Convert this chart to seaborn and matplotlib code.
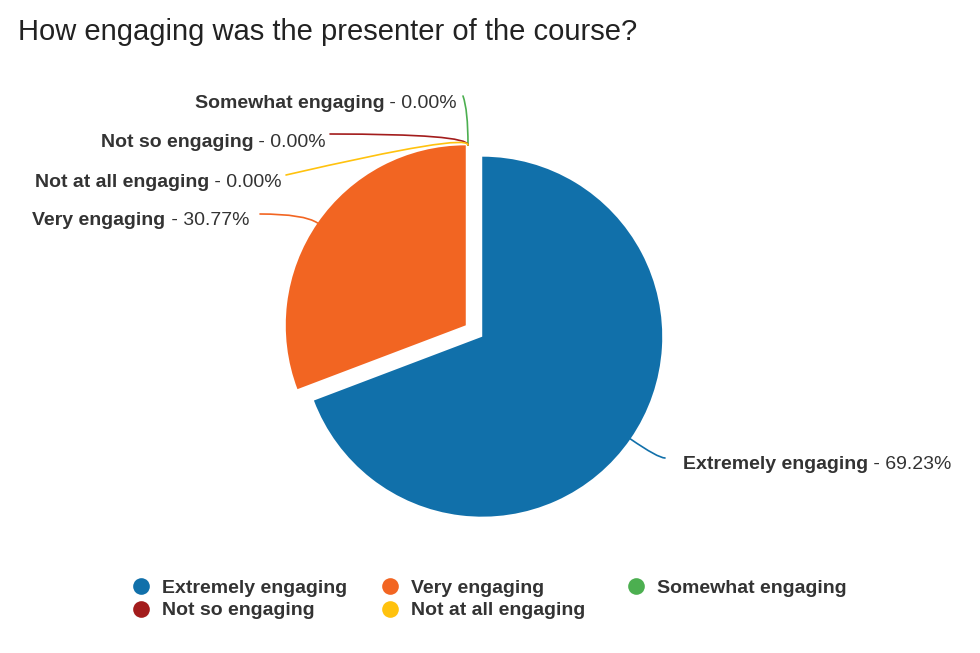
import matplotlib
matplotlib.use("Agg")
import matplotlib.pyplot as plt
import seaborn as sns
import numpy as np
from matplotlib.lines import Line2D

# ---- data ----
categories = ["Extremely engaging", "Very engaging", "Somewhat engaging",
              "Not so engaging", "Not at all engaging"]
values = [69.23, 30.77, 0.00, 0.00, 0.00]
colors = ["#1170AA", "#F26522", "#4CAF50", "#A31C1C", "#FFC20E"]
title = "How engaging was the presenter of the course?"

sns.set_theme(style="white")
plt.rcParams["font.family"] = ["Liberation Sans", "DejaVu Sans"]
TXT = "#333333"

W, H = 980, 653
fig = plt.figure(figsize=(W / 100, H / 100), dpi=100)
ax = fig.add_axes([0, 0, 1, 1])

cx, cy, R = 474, H - 331, 180
explode = [10, 10, 0, 0, 0]
wedges, _ = ax.pie(values, colors=colors, startangle=90, counterclock=False,
                   radius=R, center=(cx, cy), explode=explode,
                   wedgeprops=dict(linewidth=0), frame=True)
ax.set_xlim(0, W)
ax.set_ylim(0, H)
ax.set_aspect("equal")
ax.set_axis_off()

fig.text(18 / W, 1 - 32 / H, title, fontsize=21, color="#222222",
         ha="left", va="center")

renderer = fig.canvas.get_renderer()
FS = 14


def label(x, y, bold, regular, side):
    """side='right': text ends at x; side='left': text starts at x."""
    if side == "right":
        t2 = ax.text(x, y, " - " + regular, fontsize=FS, color=TXT,
                     ha="right", va="center")
        bb = t2.get_window_extent(renderer)
        ax.text(bb.x0, y, bold, fontsize=FS, color=TXT, fontweight="bold",
                ha="right", va="center")
    else:
        t1 = ax.text(x, y, bold, fontsize=FS, color=TXT, fontweight="bold",
                     ha="left", va="center")
        bb = t1.get_window_extent(renderer)
        ax.text(bb.x1, y, " - " + regular, fontsize=FS, color=TXT,
                ha="left", va="center")


def anchor(w):
    thm = (w.theta1 + w.theta2) / 2
    th = np.deg2rad(thm)
    cxw, cyw = w.center
    return (cxw + R * np.cos(th), cyw + R * np.sin(th)), thm


# label layout: (text x, text y px from top, side, line end x, line end y, angleA)
layout = {
    "Extremely engaging": (683, 462, "left", 665, 458, 0),
    "Very engaging": (249, 218, "right", 260, 214, 0),
    "Somewhat engaging": (457, 101, "right", 463, 96, -70),
    "Not so engaging": (326, 140, "right", 330, 134, 0),
    "Not at all engaging": (282, 180, "right", 286, 175, 13),
}

for w, cat, val, col in zip(wedges, categories, values, colors):
    tx, ty, side, lx, ly, angA = layout[cat]
    (px, py), angB = anchor(w)
    if val == 0:
        px, py = cx - 6, cy + R + 6
    ax.annotate("", xy=(px, py), xytext=(lx, H - ly),
                arrowprops=dict(arrowstyle="-", color=col, lw=1.2,
                                shrinkA=0, shrinkB=0,
                                connectionstyle=f"angle3,angleA={angA},angleB={angB}"))
    label(tx, H - ty - 2.5, cat, f"{val:.2f}%", side)

# legend: three columns placed individually
handles = {c: Line2D([], [], marker="o", linestyle="", markersize=12,
                     markerfacecolor=col, markeredgewidth=0)
           for c, col in zip(categories, colors)}
cols = [["Extremely engaging", "Not so engaging"],
        ["Very engaging", "Not at all engaging"],
        ["Somewhat engaging"]]
xs = [129, 378, 624]
for names, x in zip(cols, xs):
    fig.legend([handles[n] for n in names], names,
               loc="upper left", bbox_to_anchor=(x / W, 1 - 579 / H),
               frameon=False, handletextpad=0.5, handlelength=1.2,
               borderaxespad=0, borderpad=0, labelspacing=0.27,
               prop=dict(size=FS, weight="bold"), labelcolor=TXT)

fig.savefig("out.png", dpi=100)
